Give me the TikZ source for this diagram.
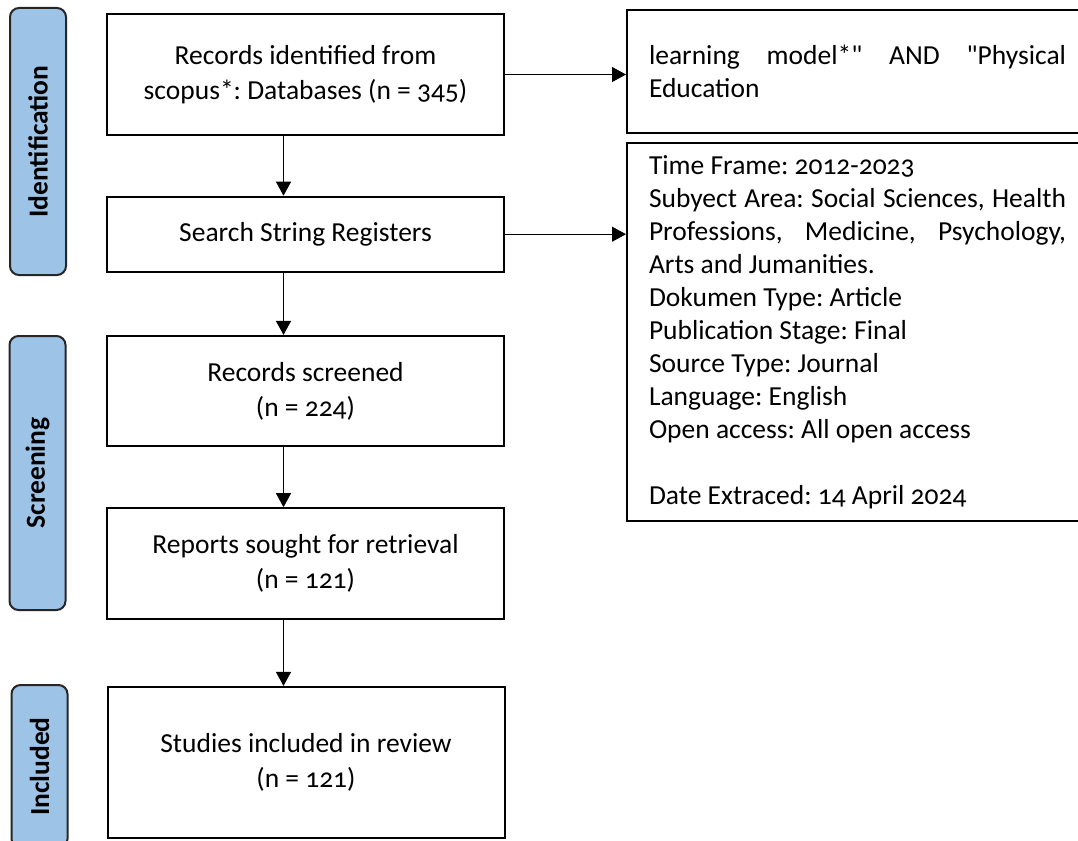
\documentclass[tikz,border=0pt]{standalone}
\usepackage{fontspec}
\setmainfont{Carlito}[Ligatures=TeXOff, Numbers=OldStyle]
\usepackage{tikz}
\usetikzlibrary{arrows.meta}
\definecolor{phaseblue}{RGB}{157,195,230}
\setlength{\parindent}{0pt}
\frenchspacing

\begin{document}
\begin{tikzpicture}[x=1pt,y=-1pt,
    stagebox/.style={draw, line width=2pt, minimum width=397pt, inner sep=0pt,
      align=center, font=\fontsize{27.5}{35}\selectfont},
    phasebox/.style={draw=black!85, fill=phaseblue, line width=2pt, rounded corners=9pt,
      rotate=90, minimum height=56pt, inner sep=0pt, font=\fontsize{27.5}{32}\selectfont\bfseries},
    notebox/.style={draw, line width=2pt, anchor=north west, text width=417pt,
      inner xsep=22pt, inner ysep=0pt, align=justify, font=\fontsize{27.5}{33}\selectfont},
    flow/.style={line width=1pt, -{Triangle[width=15pt,length=14pt]}}]
    \useasboundingbox [fill=white] (0,0) rectangle (1078,840);
    % phases
    \node [phasebox, minimum width=267pt] (ident) at (38,141.5) {Identification};
    \node [phasebox, minimum width=274pt] (screen) at (37.5,473) {Screening};
    \node [phasebox, minimum width=163pt] (incl) at (39.5,766.5) {Included};
    % main column
    \coordinate (spine) at (283.5,0);
      \node [stagebox, minimum height=121pt] (found) at (305.5,74.5) {Records identified from\\ scopus*: Databases (n = 345)};
      \node [stagebox, minimum height=75pt] (search) at (305.5,234.2) {Search String Registers};
      \node [stagebox, minimum height=110pt] (screened) at (305.5,390.9) {Records screened\\ (n = 224)};
      \node [stagebox, minimum height=111pt] (sought) at (305.5,563.7) {Reports sought for retrieval\\ (n = 121)};
      \node [stagebox, minimum height=151pt] (review) at (306,762.4) {Studies included in review\\ (n = 121)};
    % notes on the right
      \node [notebox, minimum height=123pt] (query) at (626,9) {learning model*" AND "Physical\linebreak Education};
      \node [notebox, minimum height=378pt] (limits) at (626,142) {Time Frame: 2012-2023\par
        Subyect Area: Social Sciences, Health\linebreak Professions, Medicine, Psychology,\linebreak Arts and Jumanities.\par
        Dokumen Type: Article\par Publication Stage: Final\par Source Type: Journal\par
        Language: English\par Open access: All open access\par \mbox{}\par
        Date Extraced: 14 April 2024};
    % arrows
    \draw [flow] (found.south -| spine) -- (search.north -| spine);
    \draw [flow] (search.south -| spine) -- (screened.north -| spine);
    \draw [flow] (screened.south -| spine) -- (sought.north -| spine);
    \draw [flow] (sought.south -| spine) -- (review.north -| spine);
    \draw [flow] (found.east) -- (found.east -| query.west);
    \draw [flow] (search.east) -- (search.east -| limits.west);
\end{tikzpicture}
\end{document}
